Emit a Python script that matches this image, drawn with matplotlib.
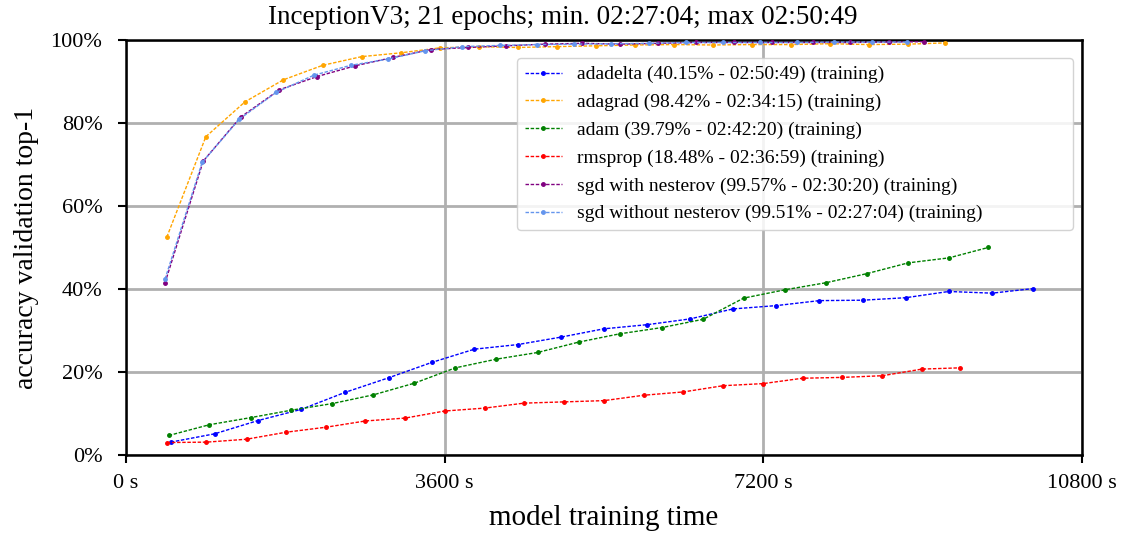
import matplotlib
matplotlib.use("Agg")
import matplotlib.pyplot as plt
from matplotlib.ticker import FixedLocator, FuncFormatter

plt.rcParams.update({
    "font.family": "serif",
    "font.serif": ["Liberation Serif", "DejaVu Serif"],
    "mathtext.fontset": "dejavuserif",
})

# seconds of cumulative training time after each epoch, and top-1 accuracy (%)
ADADELTA_T = [506, 1000, 1491, 1981, 2476, 2966, 3453, 3936, 4423, 4913, 5396,
              5887, 6374, 6857, 7347, 7834, 8321, 8808, 9294, 9784, 10249]
ADADELTA_ACC = [3.1, 5.1, 8.3, 11.0, 15.1, 18.6, 22.3, 25.5, 26.6, 28.4, 30.4,
                31.4, 32.8, 35.2, 36.0, 37.2, 37.3, 37.9, 39.4, 39.0, 40.1]

ADAGRAD_T = [461, 902, 1344, 1777, 2222, 2664, 3102, 3543, 3985, 4423, 4864,
             5306, 5751, 6189, 6626, 7072, 7513, 7955, 8392, 8838, 9255]
ADAGRAD_ACC = [52.5, 76.7, 85.1, 90.4, 93.9, 96.0, 96.9, 98.1, 98.4, 98.2, 98.4,
               98.6, 98.8, 98.9, 98.8, 98.9, 98.9, 99.1, 98.9, 99.0, 99.3]

ADAM_T = [483, 943, 1407, 1868, 2332, 2796, 3257, 3721, 4185, 4649, 5113,
          5577, 6053, 6520, 6977, 7441, 7905, 8369, 8837, 9297, 9740]
ADAM_ACC = [4.7, 7.3, 9.0, 10.8, 12.4, 14.5, 17.3, 21.0, 23.1, 24.7, 27.2,
            29.2, 30.7, 32.7, 37.8, 39.8, 41.5, 43.7, 46.3, 47.5, 50.0]

RMSPROP_T = [461, 909, 1362, 1811, 2261, 2705, 3155, 3600, 4053, 4498, 4950,
             5400, 5849, 6297, 6747, 7196, 7644, 8094, 8543, 8992, 9419]
RMSPROP_ACC = [3.0, 3.1, 3.8, 5.5, 6.7, 8.2, 8.9, 10.6, 11.3, 12.5, 12.8,
               13.1, 14.4, 15.2, 16.7, 17.2, 18.5, 18.7, 19.1, 20.7, 21.0]

SGD_NEST_T = [441, 872, 1294, 1732, 2159, 2592, 3015, 3445, 3868, 4290, 4728,
              5154, 5584, 6011, 6441, 6868, 7298, 7758, 8184, 8615, 9020]
SGD_NEST_ACC = [41.5, 70.8, 81.4, 88.0, 91.2, 93.8, 95.8, 97.7, 98.2, 98.6, 99.0,
                99.2, 99.0, 99.2, 99.4, 99.4, 99.4, 99.4, 99.4, 99.5, 99.6]

SGD_T = [441, 860, 1279, 1698, 2120, 2539, 2958, 3377, 3800, 4222, 4641,
         5063, 5482, 5906, 6325, 6743, 7166, 7584, 8003, 8425, 8824]
SGD_ACC = [42.4, 70.5, 80.9, 87.4, 91.5, 93.9, 95.4, 97.4, 98.4, 98.7, 98.9,
           99.0, 99.1, 99.2, 99.4, 99.4, 99.4, 99.4, 99.5, 99.5, 99.5]

LABELS = [
    "adadelta (40.15% - 02:50:49) (training)",
    "adagrad (98.42% - 02:34:15) (training)",
    "adam (39.79% - 02:42:20) (training)",
    "rmsprop (18.48% - 02:36:59) (training)",
    "sgd with nesterov (99.57% - 02:30:20) (training)",
    "sgd without nesterov (99.51% - 02:27:04) (training)",
]
SERIES = [(ADADELTA_T, ADADELTA_ACC), (ADAGRAD_T, ADAGRAD_ACC),
          (ADAM_T, ADAM_ACC), (RMSPROP_T, RMSPROP_ACC),
          (SGD_NEST_T, SGD_NEST_ACC), (SGD_T, SGD_ACC)]
COLORS = ["blue", "orange", "green", "red", "purple", "cornflowerblue"]

X_TICKS = [0, 3600, 7200, 10800]
Y_TICKS = [0, 20, 40, 60, 80, 100]

fig = plt.figure(figsize=(11.26, 5.37), dpi=100)
ax = fig.add_axes([126 / 1126, 1 - 455 / 537, 956 / 1126, 415 / 537])

for (t, acc), c, lbl in zip(SERIES, COLORS, LABELS):
    ax.plot(t, acc, color=c, linestyle=(0, (2.5, 1.2)), linewidth=1.0,
            marker=".", markersize=5, label=lbl, zorder=3)

ax.set_xlim(0, 10800)
ax.set_ylim(0, 100)
ax.xaxis.set_major_locator(FixedLocator(X_TICKS))
ax.yaxis.set_major_locator(FixedLocator(Y_TICKS))
ax.xaxis.set_major_formatter(FuncFormatter(lambda v, p: f"{int(v)} s"))
ax.yaxis.set_major_formatter(FuncFormatter(lambda v, p: f"{int(v)}%"))
ax.grid(True, color="#b0b0b0", linewidth=2.0, zorder=0)
ax.set_axisbelow(True)
for s in ax.spines.values():
    s.set_linewidth(1.8)
ax.tick_params(direction="out", length=6, width=1.5, labelsize=16, pad=8)
ax.tick_params(axis="y", pad=11)

ax.set_xlabel("model training time", fontsize=21, labelpad=8)
ax.set_ylabel("accuracy validation top-1", fontsize=20, labelpad=8)
fig.text(0.5, 1 - 24 / 537, "InceptionV3; 21 epochs; min. 02:27:04; max 02:50:49",
         fontsize=19.5, ha="center", va="baseline")

ax.legend(loc="upper left", bbox_to_anchor=(0.409, 0.9566, 0.5816, 0.0),
          mode="expand", borderaxespad=0,
          fontsize=14, handlelength=1.9, handletextpad=0.8, labelspacing=0.52,
          framealpha=0.85, edgecolor="#cccccc", fancybox=True)

fig.savefig("out.png", dpi=100)
